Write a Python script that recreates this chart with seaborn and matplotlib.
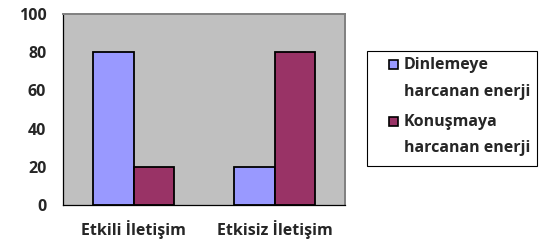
import matplotlib
matplotlib.use("Agg")
import matplotlib.pyplot as plt
import seaborn as sns
import pandas as pd
from matplotlib.patches import Rectangle

categories = ["Etkili İletişim", "Etkisiz İletişim"]
series = ["Dinlemeye\nharcanan enerji", "Konuşmaya\nharcanan enerji"]
dinleme = [80, 20]
konusma = [20, 80]
yticks = [0, 20, 40, 60, 80, 100]

colors = ["#9999FF", "#993366"]

df = pd.DataFrame({
    "cat": categories * 2,
    "series": [series[0]] * 2 + [series[1]] * 2,
    "val": dinleme + konusma,
})

sns.set_style("white")
plt.rcParams["font.family"] = ["Open Sans", "DejaVu Sans"]

W, H = 544, 248
fig = plt.figure(figsize=(5.44, 2.48), dpi=100)
ax = fig.add_axes([63/W, 1-205/H, (345-63)/W, (205-14)/H])
sns.barplot(data=df, x="cat", y="val", hue="series", palette=colors,
            width=0.58, edgecolor="black", linewidth=1.3, ax=ax, legend=False,
            saturation=1)
ax.set_facecolor("#C0C0C0")
ax.set_xlim(-0.5, 1.5)
ax.set_ylim(0, 100)
ax.set_yticks(yticks)
ax.set_xlabel("")
ax.set_ylabel("")
for s in ["top", "right"]:
    ax.spines[s].set_color("#808080")
    ax.spines[s].set_linewidth(1.4)
for s in ["left", "bottom"]:
    ax.spines[s].set_color("black")
    ax.spines[s].set_linewidth(0.9)
ax.tick_params(axis="y", direction="out", length=4, width=0.9, labelsize=11.5, pad=8)
ax.tick_params(axis="x", which="major", length=0, labelsize=11.5, pad=11)
ax.set_xticks([-0.5, 0.5, 1.5], minor=True)
ax.tick_params(axis="x", which="minor", direction="out", length=4, width=0.9)
for lbl in ax.get_xticklabels() + ax.get_yticklabels():
    lbl.set_fontweight("bold")

# legend drawn manually so the marker aligns with the first label line
fig.patches.append(Rectangle((367/W, 1-166/H), (537-367)/W, (166-51)/H,
                             transform=fig.transFigure, facecolor="white",
                             edgecolor="black", linewidth=0.8))
rows = [(60, 92), (117, 147)]
for (y1, y2), c, lab in zip(rows, colors, series):
    fig.patches.append(Rectangle((389/W, 1-(y1+9)/H), 9/W, 9/H,
                                 transform=fig.transFigure, facecolor=c,
                                 edgecolor="black", linewidth=1.2))
    l1, l2 = lab.split("\n")
    fig.text(404/W, 1-(y1+5)/H, l1, fontsize=11.5, fontweight="bold", va="center", ha="left")
    fig.text(404/W, 1-(y2+0.5)/H, l2, fontsize=11.5, fontweight="bold", va="center", ha="left")

fig.savefig("out.png", dpi=100, facecolor="white")
